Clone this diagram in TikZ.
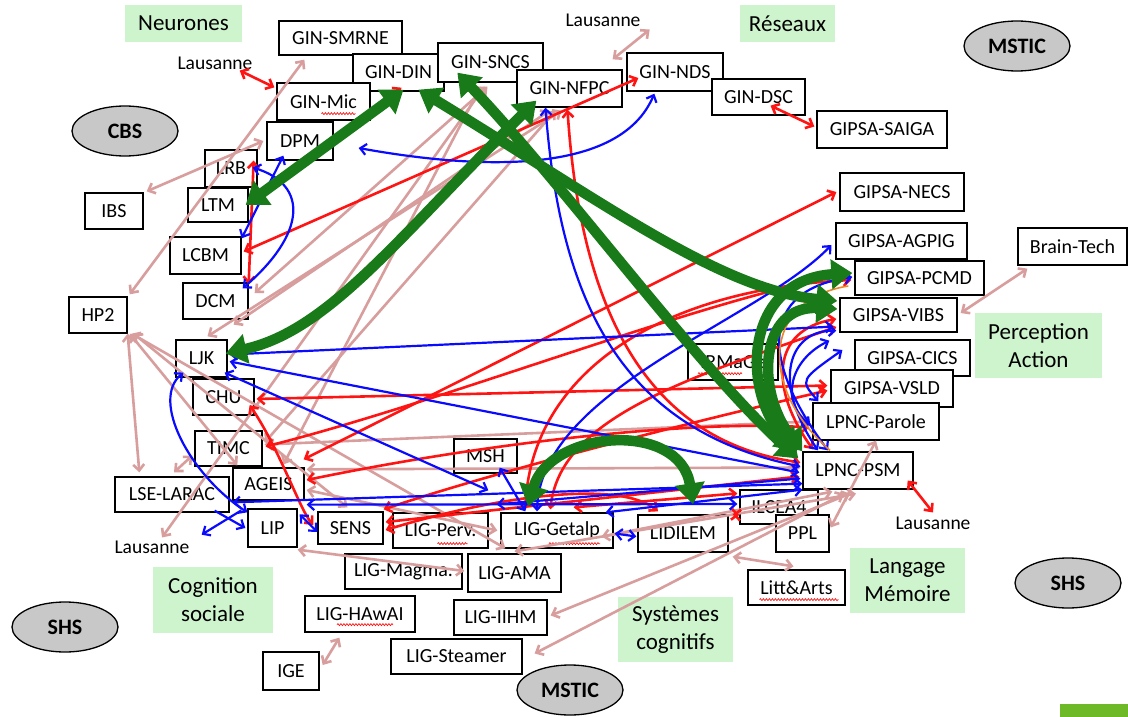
\documentclass[tikz,border=0pt]{standalone}
\usepackage{fontspec}
\setmainfont{Carlito}
\usetikzlibrary{arrows.meta,shapes.geometric,calc,decorations.pathmorphing}
\definecolor{cpk}{RGB}{216,158,158}
\definecolor{crd}{RGB}{255,20,20}
\definecolor{cbl}{RGB}{10,10,255}
\definecolor{cgr}{RGB}{24,122,24}
\definecolor{cor}{RGB}{235,135,40}
\definecolor{lgreen}{RGB}{206,244,206}
\definecolor{egray}{RGB}{200,200,200}
\definecolor{logog}{RGB}{110,185,40}
\begin{document}
\begin{tikzpicture}[x=1pt,y=-1pt,
  box/.style={draw=black, line width=1.3pt, fill=white, inner sep=0pt, font=\fontsize{20}{23}\selectfont},
  glabel/.style={fill=lgreen, inner sep=0pt, align=center, font=\fontsize{23}{28}\selectfont},
  oval/.style={ellipse, draw=black, line width=1.3pt, fill=egray, minimum width=106pt, minimum height=50pt, inner sep=0pt, font=\bfseries\fontsize{22}{26}\selectfont},
  txt/.style={inner sep=1pt, font=\fontsize{19.5}{22}\selectfont},
  pk/.style={draw=cpk, line width=2.6pt, >={Straight Barb[length=6pt,width=11pt]}},
  rd/.style={draw=crd, line width=2.6pt, >={Straight Barb[length=6pt,width=11pt]}},
  bl/.style={draw=cbl, line width=2.2pt, >={Straight Barb[length=6pt,width=11pt]}},
  gr/.style={draw=cgr, line width=10.5pt, >={Triangle[length=21pt,width=29pt]}},
  og/.style={draw=cor, line width=1.6pt},
  squig/.style={draw=crd, line width=0.7pt, decorate, decoration={snake, amplitude=1pt, segment length=3pt}},
]
\useasboundingbox[fill=white] (0,0) rectangle (1128,717);
\fill[logog] (1060,704) rectangle (1128,717);

% green theme labels
\node[glabel, minimum width=117pt, minimum height=37pt] (neur) at (183.5,23.5) {Neurones};
\node[glabel, minimum width=95pt, minimum height=37pt] (reseaux) at (787.5,23.5) {Réseaux};
\node[glabel, minimum width=127pt, minimum height=65pt] (percep) at (1038.5,345.5) {Perception\\Action};
\node[glabel, minimum width=115pt, minimum height=65pt] (langage) at (907.5,580.5) {Langage\\Mémoire};
\node[glabel, minimum width=115pt, minimum height=65pt] (systemes) at (675.5,629.5) {Systèmes\\cognitifs};
\node[glabel, minimum width=120pt, minimum height=66pt] (cognition) at (213,600) {Cognition\\sociale};

% ellipses
\node[oval] (cbs) at (125,131) {CBS};
\node[oval] (mstica) at (1017,46) {MSTIC};
\node[oval] (msticb) at (570,690) {MSTIC};
\node[oval] (shsa) at (65,627) {SHS};
\node[oval] (shsb) at (1068,583) {SHS};

% free texts
\node[txt] (laus1) at (603,20) {Lausanne};
\node[txt] (laus2) at (215,63) {Lausanne};
\node[txt] (laus3) at (933,523) {Lausanne};
\node[txt] (laus4) at (152,547) {Lausanne};

% boxes
\node[box, minimum width=123pt, minimum height=34pt] (smrne) at (340.5,38) {GIN-SMRNE};
\node[box, minimum width=91pt, minimum height=37pt] (din) at (398.5,72.5) {GIN-DIN};
\node[box, minimum width=93pt, minimum height=37pt] (mic) at (323.5,101.5) {GIN-Mic};
\node[box, minimum width=105pt, minimum height=39pt] (sncs) at (490.5,62.5) {GIN-SNCS};
\node[box, minimum width=105pt, minimum height=37pt] (nfpc) at (569.5,88.5) {GIN-NFPC};
\node[box, minimum width=96pt, minimum height=38pt] (nds) at (675,72) {GIN-NDS};
\node[box, minimum width=93pt, minimum height=36pt] (dsc) at (758.5,97) {GIN-DSC};
\node[box, minimum width=130pt, minimum height=37pt] (saiga) at (882,129.5) {GIPSA-SAIGA};
\node[box, minimum width=124pt, minimum height=38pt] (necs) at (902,192) {GIPSA-NECS};
\node[box, minimum width=131pt, minimum height=36pt] (agpig) at (901.5,241) {GIPSA-AGPIG};
\node[box, minimum width=109pt, minimum height=37pt] (braintech) at (1072.5,246.5) {Brain-Tech};
\node[box, minimum width=129pt, minimum height=34pt] (pcmd) at (919.5,278) {GIPSA-PCMD};
\node[box, minimum width=117pt, minimum height=34pt] (vibs) at (898.5,315) {GIPSA-VIBS};
\node[box, minimum width=115pt, minimum height=36pt] (cics) at (912.5,358) {GIPSA-CICS};
\node[box, minimum width=122pt, minimum height=37pt] (vsld) at (892,388.5) {GIPSA-VSLD};
\node[box, minimum width=126pt, minimum height=37pt] (parole) at (876,421.5) {LPNC-Parole};
\node[box, minimum width=110pt, minimum height=37pt] (psm) at (858,470.5) {LPNC-PSM};
\node[box, minimum width=90pt, minimum height=36pt] (irmage) at (733,362) {IRMaGe};
\node[box, minimum width=78pt, minimum height=34pt] (ilcea) at (779,507) {ILCEA4};
\node[box, minimum width=53pt, minimum height=37pt] (ppl) at (802.5,533.5) {PPL};
\node[box, minimum width=97pt, minimum height=35pt] (litt) at (796.5,587.5) {Litt\&Arts};
\node[box, minimum width=90pt, minimum height=37pt] (lidilem) at (683,533.5) {LIDILEM};
\node[box, minimum width=112pt, minimum height=35pt] (getalp) at (557,530.5) {LIG-Getalp};
\node[box, minimum width=95pt, minimum height=35pt] (perv) at (440.5,530.5) {LIG-Perv.};
\node[box, minimum width=117pt, minimum height=35pt] (magma) at (403.5,571.5) {LIG-Magma.};
\node[box, minimum width=93pt, minimum height=38pt] (ama) at (514.5,573) {LIG-AMA};
\node[box, minimum width=110pt, minimum height=36pt] (hawai) at (360,614) {LIG-HAwAI};
\node[box, minimum width=93pt, minimum height=35pt] (iihm) at (500.5,617.5) {LIG-IIHM};
\node[box, minimum width=131pt, minimum height=35pt] (steamer) at (456.5,656.5) {LIG-Steamer};
\node[box, minimum width=56pt, minimum height=38pt] (ige) at (291,671) {IGE};
\node[box, minimum width=114pt, minimum height=35pt] (larac) at (172,494.5) {LSE-LARAC};
\node[box, minimum width=71pt, minimum height=32pt] (ageis) at (268.5,484) {AGEIS};
\node[box, minimum width=49pt, minimum height=38pt] (lip) at (272.5,528) {LIP};
\node[box, minimum width=65pt, minimum height=32pt] (sens) at (350.5,528) {SENS};
\node[box, minimum width=67pt, minimum height=35pt] (timc) at (228.5,448.5) {TIMC};
\node[box, minimum width=61pt, minimum height=36pt] (chu) at (223.5,397) {CHU};
\node[box, minimum width=51pt, minimum height=37pt] (ljk) at (201.5,358.5) {LJK};
\node[box, minimum width=58pt, minimum height=36pt] (hp2) at (98,315) {HP2};
\node[box, minimum width=65pt, minimum height=36pt] (dcm) at (215.5,301) {DCM};
\node[box, minimum width=71pt, minimum height=37pt] (lcbm) at (205.5,255.5) {LCBM};
\node[box, minimum width=52pt, minimum height=37pt] (lrb) at (231,168.5) {LRB};
\node[box, minimum width=60pt, minimum height=34pt] (ltm) at (218,205) {LTM};
\node[box, minimum width=66pt, minimum height=38pt] (dpm) at (300,141) {DPM};
\node[box, minimum width=58pt, minimum height=36pt] (ibs) at (114,211) {IBS};
\node[box, minimum width=63pt, minimum height=34pt] (msh) at (485.5,456) {MSH};

% spell-check underlines
\draw[squig] ($(mic.south)+(-2,-7)$) -- ($(mic.south)+(32,-7)$);
\draw[squig] ($(irmage.south)+(-35,-7)$) -- ($(irmage.south)+(9,-7)$);
\draw[squig] ($(getalp.south)+(-8,-5)$) -- ($(getalp.south)+(43,-5)$);
\draw[squig] ($(perv.south)+(-3,-5)$) -- ($(perv.south)+(27,-5)$);
\draw[squig] ($(hawai.south)+(-23,-8)$) -- ($(hawai.south)+(33,-8)$);
\draw[squig] ($(litt.south)+(-37,-6)$) -- ($(litt.south)+(42,-6)$);

% ---------------- pink connectors
\draw[pk,<->] ($(nfpc.north east)+(-10,-10)$) -- ($(laus1.south east)+(8,2)$);
\draw[pk,<->] ($(smrne.south west)+(26,4)$) -- ($(hp2.north east)+(2,-2)$);
\draw[pk,<->] ($(dpm.west)+(-3,0)$) -- ($(ibs.north east)+(3,-1)$);
\draw[pk,<->] ($(sncs.south)+(-3,4)$) -- ($(dcm.east)+(6,-8)$);
\draw[pk,<->] ($(sncs.south)+(-10,4)$) -- ($(ageis.north)+(15,-3)$);
\draw[pk,<->] ($(sncs.south)+(-6,4)$) -- ($(laus4.north)+(10,-2)$);
\draw[pk,<->] ($(nfpc.south)+(-8,3)$) -- ($(ljk.north)+(6,-3)$);
\draw[pk,<->] ($(nfpc.south)+(-14,3)$) -- ($(timc.east)+(2,-6)$);
\draw[pk,<->] ($(nfpc.south)+(-20,3)$) -- ($(dcm.south east)+(-15,5)$);
\draw[pk,<->] (hp2.south east) -- ($(larac.north west)+(25,-4)$);
\draw[pk,<->] ($(hp2.south east)+(2,0)$) -- ($(ageis.north west)+(5,-2)$);
\draw[pk,<->] ($(hp2.south east)+(4,0)$) -- ($(ama.north west)+(38,-5)$);
\draw[pk,<->] ($(hp2.south east)+(6,0)$) -- ($(sens.north)+(-3,-4)$);
\draw[pk,<->] ($(timc.west)+(-2,7)$) -- ($(larac.north)+(2,-4)$);
\draw[pk,<->] ($(ige.east)+(3,-6)$) -- ($(hawai.south west)+(35,5)$);
\draw[pk,<->] ($(psm.south)+(-8,4)$) -- ($(iihm.east)+(3,-2)$);
\draw[pk,<->] ($(psm.south)+(-14,4)$) -- ($(steamer.east)+(12,-3)$);
\draw[pk,<->] ($(lidilem.south east)+(4,4)$) -- ($(litt.north)+(-3,-3)$);
\draw[pk,<->] ($(ama.north)+(0,-2)$) -- ($(psm.south)+(-2,4)$);
\draw[pk,<->] ($(getalp.east)+(-12,6)$) -- ($(psm.south west)+(30,2)$);
\draw[pk,<->] (parole.south) -- ($(ppl.east)+(1,-6)$);
\draw[pk,<->] ($(braintech.south west)+(10,3)$) -- ($(vibs.east)+(3,-2)$);
\draw[pk,<->] ($(timc.east)+(2,-4)$) -- ($(parole.west)+(-2,0)$);
\draw[pk,<->] ($(ageis.north east)+(2,2)$) -- ($(psm.west)+(-2,-3)$);
\draw[pk,<->] ($(lip.south east)+(0,2)$) -- ($(ama.west)+(-3,-2)$);
\draw[pk,<->] ($(ageis.east)+(2,6)$) -- ($(getalp.west)+(-3,0)$);

% ---------------- red connectors
\draw[rd,<->] ($(laus2.south east)+(-14,0)$) -- ($(mic.north west)+(-2,5)$);
\draw[rd,<->] ($(dsc.south)+(12,-10)$) -- ($(saiga.west)+(-2,-3)$);
\draw[rd,<->] ($(psm.east)+(-6,10)$) -- ($(laus3.north)+(0,-3)$);
\draw[rd,<->] ($(ltm.east)+(6,-7)$) -- ($(din.south)+(3,-4)$);
\draw[rd,<->] ($(lcbm.east)+(2,-4)$) -- ($(nds.west)+(12,6)$);
\draw[rd,<->] ($(dcm.north east)+(0,2)$) -- ($(lrb.east)+(-4,-8)$);
\draw[rd,<->] ($(nfpc.south)+(-2,2)$) .. controls (580,300) and (640,440) .. ($(psm.west)+(-2,-8)$);
\draw[rd,<->] ($(ageis.north east)+(-1,-8)$) -- ($(necs.west)+(-3,0)$);
\draw[rd,<->] ($(chu.east)+(-5,8)$) .. controls (280,450) and (300,510) .. ($(sens.west)+(-4,-3)$);
\draw[rd,<->] ($(timc.east)+(3,-2)$) .. controls (450,400) and (700,300) .. ($(pcmd.west)+(-3,-5)$);
\draw[rd,<->] ($(chu.east)+(2,2)$) -- ($(vsld.west)+(-3,-3)$);
\draw[rd,<->] ($(sens.north east)+(0,-2)$) .. controls (500,470) and (700,420) .. ($(vsld.west)+(-3,2)$);
\draw[rd,<->] ($(sens.east)+(2,-6)$) -- ($(psm.west)+(-3,6)$);
\draw[rd,<->] ($(ageis.east)+(2,-4)$) .. controls (500,440) and (700,420) .. ($(parole.west)+(-3,6)$);
\draw[rd,<->] ($(getalp.north west)+(25,-3)$) .. controls (530,380) and (650,290) .. ($(pcmd.west)+(-3,2)$);
\draw[rd,<->] ($(getalp.north west)+(50,-3)$) .. controls (560,420) and (680,380) .. ($(vibs.west)+(-3,12)$);
\draw[rd,<->] ($(lidilem.north east)+(4,0)$) -- ($(ilcea.west)+(0,8)$);
\draw[rd,<->] ($(sens.east)+(2,2)$) .. controls (500,495) and (620,480) .. ($(lidilem.north)+(-25,-3)$);
\draw[rd,<->] ($(ilcea.north west)+(-2,4)$) -- ($(getalp.north east)+(-40,-5)$);
\draw[rd,<->] ($(psm.north)+(-45,-2)$) .. controls (770,390) and (770,330) .. ($(vibs.west)+(-3,4)$);

% ---------------- blue connectors
\draw[bl,<->] ($(dpm.east)+(25,7)$) .. controls (480,170) and (620,175) .. ($(nds.south west)+(28,2)$);
\draw[bl,<->] ($(dpm.south west)+(17,-5)$) -- ($(lcbm.north east)+(0,2)$);
\draw[bl,<->] ($(lrb.east)+(-5,-1)$) .. controls (310,185) and (305,235) .. ($(dcm.north east)+(-6,6)$);
\draw[bl,<->] ($(nfpc.south)+(-24,0)$) .. controls (560,300) and (620,430) .. ($(psm.west)+(-2,-4)$);
\draw[bl,<->] ($(ljk.east)+(2,-4)$) -- ($(vibs.south west)+(-6,-6)$);
\draw[bl,<->] ($(ljk.east)+(2,3)$) -- ($(psm.west)+(-3,2)$);
\draw[bl,<->] ($(ljk.south east)+(-3,-5)$) -- ($(getalp.north west)+(-12,-22)$);
\draw[bl,<->] ($(getalp.north west)+(25,-1)$) -- ($(msh.south east)+(-18,-6)$);
\draw[bl,<->] ($(lip.north west)+(0,4)$) .. controls (190,475) and (150,400) .. ($(ljk.south west)+(8,-5)$);
\draw[bl,<->] ($(lip.north west)+(-15,-6)$) -- ($(psm.south west)+(0,-6)$);
\draw[bl,->] ($(larac.south east)+(-15,-2)$) -- ($(lip.west)+(-2,0)$);
\draw[bl,->] ($(lip.north west)+(-6,2)$) -- ($(larac.south east)+(-28,22)$);
\draw[bl,<->] ($(lip.north east)+(2,6)$) -- ($(sens.west)+(0,4)$);
\draw[bl,<->] ($(getalp.east)+(1,3)$) -- ($(lidilem.west)+(-1,3)$);
\draw[bl,<->] (psm.south west) -- ($(getalp.north east)+(-8,0)$);
\draw[bl,<->] ($(psm.west)+(-2,8)$) -- ($(perv.north east)+(8,-8)$);
\draw[bl,<->] ($(ageis.south east)+(2,4)$) -- ($(ilcea.west)+(-2,-3)$);
\draw[bl,<->] ($(getalp.north)+(-20,-1)$) .. controls (540,390) and (760,320) .. ($(agpig.west)+(-4,4)$);
\draw[bl,<->] ($(psm.north)+(-40,-1)$) .. controls (770,380) and (790,330) .. ($(vibs.south west)+(-3,-2)$);
\draw[bl,<->] ($(parole.north west)+(6,-1)$) .. controls (800,380) .. ($(cics.west)+(-12,-8)$);
\draw[bl,<->] ($(psm.north)+(-30,-1)$) .. controls (760,360) and (760,290) .. ($(pcmd.west)+(-2,-1)$);
\draw[bl,<->] ($(parole.west)+(-2,4)$) .. controls (780,400) and (790,360) .. ($(vibs.south west)+(-10,8)$);

% ---------------- orange connector
\draw[og] ($(pcmd.west)+(-6,8)$) .. controls (760,300) and (760,390) .. ($(psm.north)+(-28,-1)$);

% ---------------- green connectors
\draw[gr,<->] ($(ltm.east)+(-3,0)$) -- ($(din.south)+(5,-2)$);
\draw[gr,<->] ($(din.south)+(20,-2)$) .. controls (600,200) and (720,290) .. ($(vibs.west)+(-2,-14)$);
\draw[gr,<->] ($(sncs.south west)+(20,-10)$) .. controls (560,180) and (700,370) .. ($(psm.west)+(-4,-12)$);
\draw[gr,<->] ($(nfpc.south west)+(20,-7)$) .. controls (400,235) and (330,330) .. ($(ljk.east)+(-2,-5)$);
\draw[gr,<->] ($(getalp.north)+(-29,-6)$) .. controls (550,430) and (680,420) .. ($(lidilem.north)+(10,-10)$);
\draw[gr,<->] ($(psm.north west)+(-5,0)$) .. controls (740,390) and (745,280) .. ($(pcmd.west)+(-2,-5)$);
\draw[gr,<->] (psm.north west) .. controls (755,390) and (760,305) .. ($(vibs.west)+(-2,-6)$);
\end{tikzpicture}
\end{document}
